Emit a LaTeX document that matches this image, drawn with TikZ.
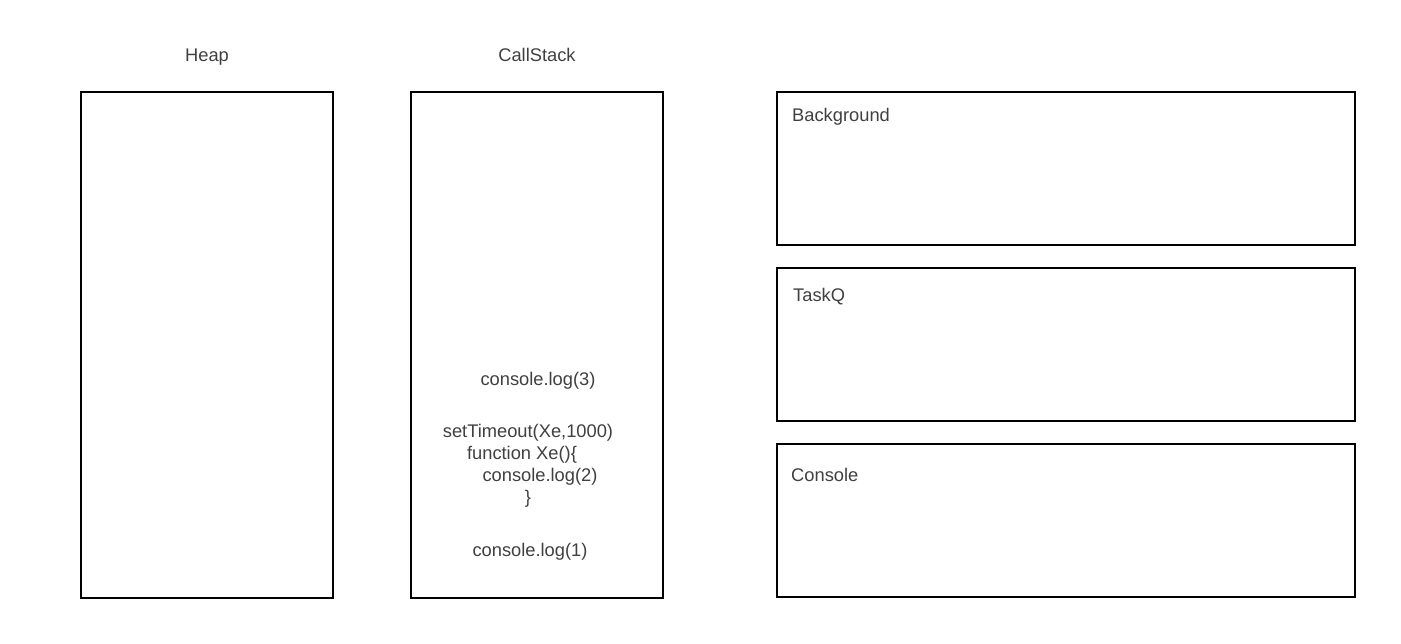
\documentclass[tikz,border=0pt]{standalone}
\usepackage{fontspec}
\setmainfont{Liberation Sans}
\definecolor{txt}{RGB}{64,64,64}
\begin{document}
\begin{tikzpicture}[x=1pt,y=-1pt,
  panel/.style={draw=black,line width=2pt},
  lbl/.style={text=txt,font=\fontsize{18.3}{22}\selectfont,inner sep=0pt},
  code/.style={lbl,anchor=mid}]
\useasboundingbox (0,0) rectangle (1401,644);
\fill[white] (0,0) rectangle (1401,644);
\draw[panel] (81,92) rectangle (333,598);
\draw[panel] (411,92) rectangle (663,598);
\draw[panel] (777,92) rectangle (1355,245);
\draw[panel] (777,268) rectangle (1355,421);
\draw[panel] (777,444) rectangle (1355,597);
\node[code] (heaplbl) at (207,59) {Heap};
\node[code] (stacklbl) at (537,59) {CallStack};
\node[lbl,anchor=mid west] (bglbl) at (792,119) {Background};
\node[lbl,anchor=mid west] (tqlbl) at (793,299) {TaskQ};
\node[lbl,anchor=mid west] (conlbl) at (791,479) {Console};
\node[code] (c3) at (538,383) {console.log(3)};
\node[code] (st) at (528,435) {setTimeout(Xe,1000)};
\node[code] (fx) at (522,457) {function Xe()\{};
\node[code] (c2) at (540,479) {console.log(2)};
\node[code] (br) at (528,501) {\}};
\node[code] (c1) at (530,554) {console.log(1)};
\end{tikzpicture}
\end{document}
